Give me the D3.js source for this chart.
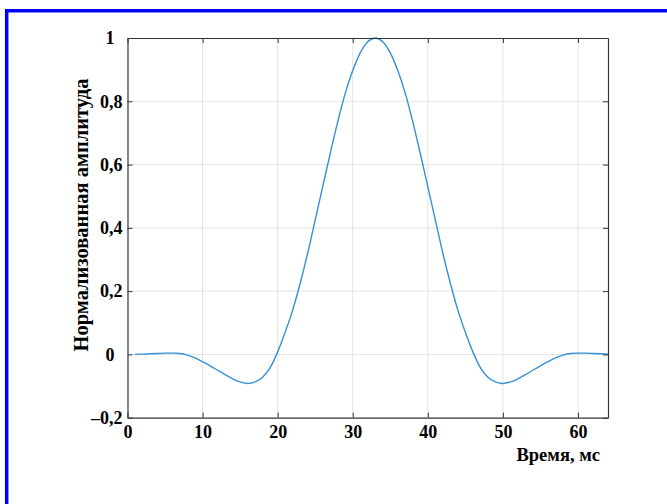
<!DOCTYPE html>
<html>
<head>
<meta charset="utf-8">
<script src="https://cdn.jsdelivr.net/npm/d3@7"></script>
<style>
  body { margin: 0; background: #fff; }
  svg text { font-family: "Liberation Serif", "Times New Roman", serif; font-weight: bold; fill: #000; }
</style>
</head>
<body>
<div id="chart"></div>
<script>
// time, ms
var timeMs = [1, 2, 3, 4, 5, 6, 7, 8, 9, 10, 11, 12, 13, 14, 15, 16, 17, 18, 19, 20,
  21, 22, 23, 24, 25, 26, 27, 28, 29, 30, 31, 32, 33, 34, 35, 36, 37, 38, 39, 40,
  41, 42, 43, 44, 45, 46, 47, 48, 49, 50, 51, 52, 53, 54, 55, 56, 57, 58, 59, 60,
  61, 62, 63, 64];
// normalized amplitude
var amplitude = [0.000, 0.001, 0.002, 0.003, 0.004, 0.004, 0.003, -0.002, -0.011, -0.023,
  -0.036, -0.050, -0.064, -0.077, -0.087, -0.092, -0.087, -0.072, -0.042, 0.008,
  0.070, 0.140, 0.225, 0.320, 0.425, 0.530, 0.635, 0.735, 0.825, 0.897,
  0.953, 0.988, 1.000, 0.988, 0.953, 0.897, 0.825, 0.735, 0.635, 0.530,
  0.425, 0.320, 0.225, 0.140, 0.070, 0.008, -0.042, -0.072, -0.087, -0.092,
  -0.087, -0.077, -0.064, -0.050, -0.036, -0.023, -0.011, -0.002, 0.003, 0.004,
  0.004, 0.003, 0.002, 0.001];

var xTicks = [0, 10, 20, 30, 40, 50, 60];
var xTickLabels = ["0", "10", "20", "30", "40", "50", "60"];
var yTicks = [-0.2, 0, 0.2, 0.4, 0.6, 0.8, 1];
var yTickLabels = ["\u20130,2", "0", "0,2", "0,4", "0,6", "0,8", "1"];

var xTitle = "Время, мс";
var yTitle = "Нормализованная амплитуда";

var W = 667, H = 504;
var plot = { left: 127.5, right: 608, top: 38, bottom: 417.7 };

var svg = d3.select("#chart").append("svg")
    .attr("width", W)
    .attr("height", H);

// blue frame (top and left edges)
svg.append("path")
    .attr("d", "M6.7,504 V10.8 H667")
    .attr("fill", "none")
    .attr("stroke", "#0000ff")
    .attr("stroke-width", 3.5);

var x = d3.scaleLinear().domain([0, 64]).range([plot.left, plot.right]);
var y = d3.scaleLinear().domain([-0.2, 1]).range([plot.bottom, plot.top]);

// grid
svg.append("g").selectAll("line")
    .data(xTicks.slice(1))
    .enter().append("line")
    .attr("x1", function (d) { return x(d); })
    .attr("x2", function (d) { return x(d); })
    .attr("y1", plot.top)
    .attr("y2", plot.bottom)
    .attr("stroke", "#e3e3e3")
    .attr("stroke-width", 1);

svg.append("g").selectAll("line")
    .data(yTicks.slice(1, -1))
    .enter().append("line")
    .attr("x1", plot.left)
    .attr("x2", plot.right)
    .attr("y1", function (d) { return y(d); })
    .attr("y2", function (d) { return y(d); })
    .attr("stroke", "#e3e3e3")
    .attr("stroke-width", 1);

// curve
var line = d3.line()
    .x(function (d, i) { return x(timeMs[i]); })
    .y(function (d) { return y(d); })
    .curve(d3.curveMonotoneX);

svg.append("path")
    .datum(amplitude)
    .attr("d", line)
    .attr("fill", "none")
    .attr("stroke", "#3590d4")
    .attr("stroke-width", 1.4);

// axes, ticks inward on all four sides
var tickLen = 5;
var bottomAxis = d3.axisBottom(x).tickValues(xTicks)
    .tickSizeInner(-tickLen).tickSizeOuter(0).tickPadding(8)
    .tickFormat(function (d, i) { return xTickLabels[i]; });
var topAxis = d3.axisTop(x).tickValues(xTicks)
    .tickSizeInner(-tickLen).tickSizeOuter(0).tickFormat("");
var leftAxis = d3.axisLeft(y).tickValues(yTicks)
    .tickSizeInner(-tickLen).tickSizeOuter(0).tickPadding(5)
    .tickFormat(function (d, i) { return yTickLabels[i]; });
var rightAxis = d3.axisRight(y).tickValues(yTicks)
    .tickSizeInner(-tickLen).tickSizeOuter(0).tickFormat("");

function styleAxis(g) {
  g.select(".domain").attr("stroke", "#333").attr("stroke-width", 1.2);
  g.selectAll(".tick line").attr("stroke", "#333");
  g.selectAll(".tick text")
      .style("font-family", "'Liberation Serif', 'Times New Roman', serif")
      .style("font-weight", "bold")
      .style("font-size", "18px")
      .attr("fill", "#000");
}

svg.append("g").attr("transform", "translate(0," + plot.bottom + ")").call(bottomAxis).call(styleAxis);
svg.append("g").attr("transform", "translate(0," + plot.top + ")").call(topAxis).call(styleAxis);
var gLeft = svg.append("g").attr("transform", "translate(" + plot.left + ",0)").call(leftAxis).call(styleAxis);
svg.append("g").attr("transform", "translate(" + plot.right + ",0)").call(rightAxis).call(styleAxis);

// integer labels sit a little further left in the original
gLeft.selectAll(".tick text")
    .attr("dx", function (d) { return (d === 0 || d === 1) ? "-8" : "0"; });

// axis titles
svg.append("text")
    .attr("x", 600)
    .attr("y", 461)
    .attr("text-anchor", "end")
    .style("font-size", "18.5px")
    .text(xTitle);

svg.append("text")
    .attr("transform", "translate(88,215) rotate(-90)")
    .attr("text-anchor", "middle")
    .style("font-size", "20.5px")
    .text(yTitle);
</script>
</body>
</html>
